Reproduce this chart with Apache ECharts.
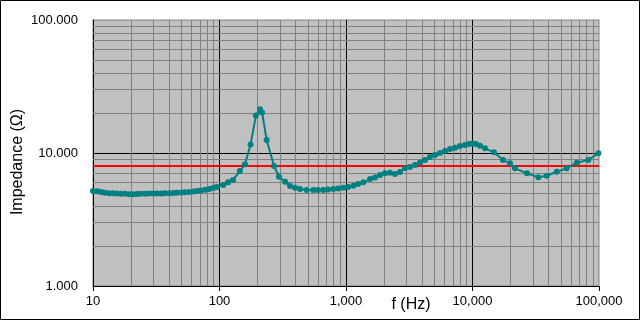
<!DOCTYPE html>
<html><head><meta charset="utf-8">
<script src="https://cdn.jsdelivr.net/npm/echarts@6/dist/echarts.min.js"></script>
<style>html,body{margin:0;padding:0;background:#fff}#c{width:640px;height:320px}</style>
</head><body><div id="c"></div>
<script>
const freq = [10, 10.8, 11.6, 12.4, 13.4, 14.4, 15.5, 16.6, 17.9, 19.3,
  20.7, 22.3, 23.9, 25.8, 27.7, 29.8, 32, 34.5, 37, 40,
  43, 46, 50, 53, 57, 62, 66, 71, 77, 83,
  89, 95, 107, 117, 128, 145, 159, 176, 194, 209,
  217, 236, 270, 295, 330, 361, 395, 433, 489, 551,
  601, 662, 721, 794, 865, 953, 1038, 1143, 1246, 1371,
  1549, 1696, 1858, 2034, 2228, 2440, 2673, 2925, 3205, 3510,
  3845, 4213, 4613, 5055, 5535, 6064, 6640, 7278, 7960, 8730,
  9380, 9960, 10660, 11460, 12560, 14790, 17420, 19780, 21660, 26980,
  33140, 38630, 46340, 55590, 66660, 82280, 98830];
const impedance = [5.18, 5.15, 5.08, 5.02, 4.98, 4.98, 4.96, 4.94, 4.93, 4.90,
  4.90, 4.92, 4.93, 4.94, 4.95, 4.95, 4.96, 4.97, 4.98, 4.99,
  5.0, 5.02, 5.04, 5.07, 5.10, 5.14, 5.18, 5.23, 5.29, 5.36,
  5.45, 5.55, 5.75, 6.02, 6.27, 7.32, 8.22, 11.6, 19.1, 21.3,
  20.2, 12.5, 7.98, 6.63, 6.08, 5.65, 5.48, 5.36, 5.27, 5.27,
  5.27, 5.27, 5.31, 5.36, 5.41, 5.48, 5.55, 5.67, 5.85, 6.02,
  6.37, 6.54, 6.83, 7.03, 7.11, 6.95, 7.20, 7.67, 7.85, 8.12,
  8.49, 8.86, 9.33, 9.66, 10.0, 10.35, 10.7, 10.96, 11.29, 11.49,
  11.69, 11.79, 11.69, 11.35, 10.85, 10.12, 8.86, 8.36, 7.67, 7.03,
  6.57, 6.75, 7.23, 7.67, 8.46, 8.86, 9.95];
const referenceLevel = 8;
const xRange = [10, 100000];
const yRange = [1, 100];
const xTitle = 'f (Hz)';
const yTitle = 'Impedance (Ω)';

const xMinor = [], yMinor = [];
for (let d = 10; d < xRange[1]; d *= 10) for (let k = 2; k <= 9; k++) xMinor.push({ xAxis: d * k });
for (let d = 1; d < yRange[1]; d *= 10) for (let k = 2; k <= 9; k++) yMinor.push({ yAxis: d * k });

const FONT = 'Liberation Sans, Arial, sans-serif';
const chart = echarts.init(document.getElementById('c'), null, { renderer: 'canvas' });
chart.setOption({
  animation: false,
  backgroundColor: '#ffffff',
  grid: { left: 93, right: 41, top: 20, bottom: 34, show: true, backgroundColor: '#C0C0C0', borderColor: '#808080', borderWidth: 1 },
  xAxis: {
    type: 'log', logBase: 10, min: xRange[0], max: xRange[1],
    axisLine: { show: true, lineStyle: { color: '#000', width: 1 } },
    axisTick: { show: true, length: 5, lineStyle: { color: '#000' } },
    axisLabel: { color: '#000', fontFamily: FONT, fontSize: 13, margin: 9,
      formatter: v => Number(v).toLocaleString('en-US') },
    splitLine: { show: true, showMinLine: false, showMaxLine: false, lineStyle: { color: '#000', width: 1 } }
  },
  yAxis: {
    type: 'log', logBase: 10, min: yRange[0], max: yRange[1],
    axisLine: { show: true, lineStyle: { color: '#000', width: 1 } },
    axisTick: { show: false },
    axisLabel: { color: '#000', fontFamily: FONT, fontSize: 13, margin: 15,
      formatter: v => Number(v).toFixed(3) },
    splitLine: { show: true, showMinLine: false, showMaxLine: false, lineStyle: { color: '#000', width: 1 } }
  },
  graphic: [
    { type: 'rect', shape: { x: 0.5, y: 0.5, width: 639, height: 319 }, style: { fill: 'none', stroke: '#000', lineWidth: 1 }, z: 100 },
    { type: 'text', x: 411, y: 305, style: { text: xTitle, font: '16px ' + FONT, fill: '#000', align: 'center', verticalAlign: 'middle' } },
    { type: 'text', x: 18, y: 162, rotation: Math.PI / 2, style: { text: yTitle, font: '16px ' + FONT, fill: '#000', align: 'center', verticalAlign: 'middle' } }
  ],
  series: [
    { type: 'line', data: [], silent: true, z: 0,
      markLine: { silent: true, symbol: ['none', 'none'], label: { show: false }, animation: false,
        lineStyle: { color: '#808080', width: 1, type: 'solid' }, emphasis: { disabled: true },
        data: xMinor.concat(yMinor) } },
    { type: 'line', data: [[xRange[0], referenceLevel], [xRange[1], referenceLevel]], symbol: 'none', silent: true, z: 5,
      lineStyle: { color: '#FF0000', width: 2 } },
    { type: 'line', data: freq.map((f, i) => [f, impedance[i]]), symbol: 'circle', symbolSize: 6, z: 6,
      itemStyle: { color: '#008080' }, lineStyle: { color: '#008080', width: 2 } }
  ]
});
</script></body></html>
